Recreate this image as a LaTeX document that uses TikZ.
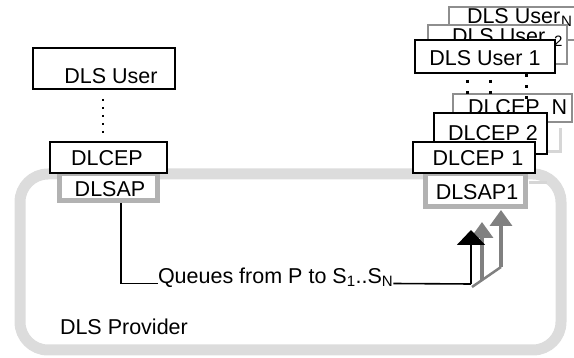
\documentclass[tikz,border=0pt]{standalone}
\usepackage{fontspec}
\setmainfont{Liberation Sans}
\usetikzlibrary{arrows.meta,fit,calc}
\definecolor{framegray}{HTML}{DCDCDC}
\definecolor{sapgray}{HTML}{B2B2B2}
\definecolor{backgray}{HTML}{8E8E8E}
\definecolor{ghostgray}{HTML}{D6D6D6}
\definecolor{arrowgray}{HTML}{808080}
\tikzset{
  txt/.style={font=\fontsize{21.5}{25}\selectfont, inner sep=0pt, outer sep=0pt},
  bbox/.style={draw=black, line width=1.6pt, fill=white, inner sep=0pt},
  gbox/.style={draw=backgray, line width=2.4pt, fill=white, inner sep=0pt},
  sapbox/.style={draw=sapgray, line width=5pt, fill=white, inner sep=0pt},
  dotsL/.style={line width=2pt, dash pattern=on 2.5pt off 5.5pt},
  dotsR/.style={line width=3pt, dash pattern=on 3pt off 8pt},
  frame/.style={draw=framegray, line width=11pt, rounded corners=28pt},
  ghost/.style={draw=ghostgray, line width=3pt},
  garrow/.style={draw=arrowgray, line width=3.5pt,
    -{Triangle[width=22pt,length=16pt,fill=arrowgray]}},
  barrow/.style={draw=black, line width=2pt,
    -{Triangle[width=28pt,length=15pt]}},
}
\begin{document}
\begin{tikzpicture}[x=1pt,y=-1pt]
\useasboundingbox (0,0) rectangle (574,358);
\clip (0,0) rectangle (574,358);

% provider frame
\draw[frame] (20,174) rectangle (561,350);
\node[txt, anchor=west] (prov) at (60,327) {DLS Provider};

% ---- left stack: single user ----
\node[bbox, fit={(33,48)(175,89)}] (userL) {};
\node[txt] (userLt) at (111,76) {DLS User};
\node[sapbox, fit={(59.5,174)(157.5,200.5)}] (dlsapL) {};
\node[txt] (dlsapLt) at (110,189) {DLSAP};
\node[bbox, fit={(50,142)(167,173)}] (dlcepL) {};
\node[txt] (dlcepLt) at (107,158) {DLCEP};
\coordinate (dL) at (103,0);
\draw[dotsL, shorten <=9pt, shorten >=8pt] (userL.south -| dL) -- (dlcepL.north -| dL);

% ---- right stack: users 1..N ----
\node[gbox, fit={(449,7)(600,40)}] (userN) {};
\node[txt, anchor=base west] (userNt) at (467,23.5) {DLS User\hspace{1pt}\textsubscript{N}};
\node[gbox, fit={(428,25)(567,64)}] (user2) {};
\node[txt, anchor=base west] (user2t) at (452,43.5) {DLS User\hspace{9pt}\textsubscript{2}};
\node[bbox, fit={(415,40)(555,73)}] (user1) {};
\node[txt] (user1t) at (485,58) {DLS User 1};

\node[gbox, fit={(453,94)(572,122)}] (dlcepN) {};
\node[txt, anchor=west] (dlcepNt) at (468,107) {DLCEP\hspace{12pt}N};

\coordinate (dA) at (467,101);
\coordinate (dB) at (490,101);
\coordinate (dC) at (526,101);
\draw[dotsR, dash phase=-6pt] (user1.south -| dA) -- (dA);
\draw[dotsR, dash phase=-6pt] (user1.south -| dB) -- (dB);
\draw[dotsR] (user1.south -| dC) -- (dC);

% faint outlines of the hidden entries behind
\draw[ghost] (547,152) -- (560,152) -- (560,128);
\draw[ghost] (529,183) -- (547,183);

\node[bbox, fit={(434,113)(547,154)}] (dlcep2) {};
\node[txt] (dlcep2t) at (493,133) {DLCEP 2};
\node[sapbox, fit={(425.5,174)(525.5,206.5)}] (dlsap1) {};
\node[txt] (dlsap1t) at (477,192) {DLSAP1};
\node[bbox, fit={(413,142)(535,173)}] (dlcep1) {};
\node[txt] (dlcep1t) at (478,158) {DLCEP\hspace{7pt}1};

% ---- queues from P to the S_i ----
\node[txt, anchor=base west] (qlbl) at (158,283.5) {Queues from P to S\textsubscript{1}..S\textsubscript{N}};
\coordinate (cQ) at (121,0);
\draw[line width=1.6pt] (dlsapL.south -| cQ) |- (qlbl.base west);

\coordinate (aB) at (471,284);
\coordinate (aT) at (471,230);
\coordinate (g2B) at (482,280);
\coordinate (g2T) at (482,222);
\coordinate (g3B) at (501,267);
\coordinate (g3T) at (501,210);
\draw[draw=arrowgray, line width=2.5pt] (472,287) -- (g3B);
\draw[garrow] (g3B) -- (g3T);
\draw[garrow] (g2B) -- (g2T);
\draw[line width=1.6pt] (qlbl.base east) -- (aB);
\draw[barrow] (aB) -- (aT);
\end{tikzpicture}
\end{document}
